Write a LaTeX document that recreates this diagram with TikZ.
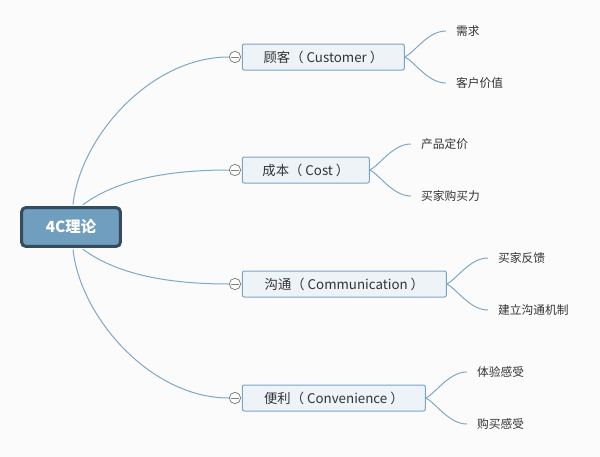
\documentclass[tikz,border=0pt]{standalone}
\usepackage{fontspec}
\setmainfont{Noto Sans CJK SC}
\usetikzlibrary{calc,positioning}
\definecolor{linkblue}{RGB}{127,167,198}
\definecolor{boxline}{RGB}{122,164,198}
\definecolor{boxfill}{RGB}{238,243,247}
\definecolor{rootfill}{RGB}{111,158,190}
\definecolor{rootline}{RGB}{54,76,94}
\definecolor{foldgray}{RGB}{130,130,130}
\definecolor{textgray}{RGB}{51,51,51}
\definecolor{bgcol}{RGB}{251,251,251}
\tikzstyle{rootbox}=[rectangle, rounded corners=3pt, draw=rootline, line width=2.25pt, fill=rootfill, minimum width=74pt, minimum height=29pt, text=white, font=\fontsize{11.5}{13}\selectfont\bfseries]
\tikzstyle{branch}=[rectangle, rounded corners=1.5pt, draw=boxline, line width=0.75pt, fill=boxfill, minimum height=19.5pt, inner sep=0, text=textgray, font=\fontsize{10}{12}\selectfont]
\tikzstyle{leaf}=[anchor=west, inner xsep=7.5pt, inner ysep=0, text=textgray, font=\fontsize{8.8}{10}\selectfont]
\tikzstyle{fold}=[shape=circle, minimum size=8.5pt, inner sep=0, draw=foldgray, line width=0.6pt, fill=white, path picture={\draw[foldgray, line width=0.6pt] ([xshift=-3pt]path picture bounding box.center) -- ([xshift=3pt]path picture bounding box.center);}]
\tikzstyle{link}=[draw=linkblue, line width=0.75pt]

\begin{document}
\begin{tikzpicture}[x=0.75pt, y=-0.75pt]
\fill[bgcol] (0,0) rectangle (600,457);
\useasboundingbox (0,0) rectangle (600,457);
\node[rootbox] (root) at (71,227) {4C理论};
\foreach \nm/\yy/\ww/\txt in {cust/57/121.5pt/{顾客（ Customer ）}, cost/170/95.25pt/{成本（ Cost ）}, comm/284/153pt/{沟通（ Communication ）}, conv/398/137.25pt/{便利（ Convenience ）}}
{
\node[fold] (\nm dot) at (235,\yy) {};
\node[branch, minimum width=\ww, right=0.6pt of \nm dot] (\nm) {\txt};
}
% root to branches
\draw[link] ($(root.north)+(2,-1.5)$) .. controls +(7,-67) and +(-79,0) .. (custdot.west);
\draw[link] ($(root.north)+(12,-1.5)$) .. controls +(30,-22) and +(-70,0) .. (costdot.west);
\draw[link] ($(root.south)+(12,1.5)$) .. controls +(30,22) and +(-70,0) .. (commdot.west);
\draw[link] ($(root.south)+(2,1.5)$) .. controls +(7,67) and +(-79,0) .. (convdot.west);
% branches to leaves
\foreach \nm/\up/\dn in {cust/需求/客户价值, cost/产品定价/买家购买力, comm/买家反馈/建立沟通机制, conv/体验感受/购买感受}
{
\node[leaf] (\nm1) at ($(\nm.east)+(41,-26)$) {\up};
\node[leaf] (\nm2) at ($(\nm.east)+(41,26)$) {\dn};
\draw[link] (\nm.east) .. controls +(10,-5) and +(-18,0) .. (\nm1.west);
\draw[link] (\nm.east) .. controls +(10,5) and +(-18,0) .. (\nm2.west);
}
\end{tikzpicture}
\end{document}
